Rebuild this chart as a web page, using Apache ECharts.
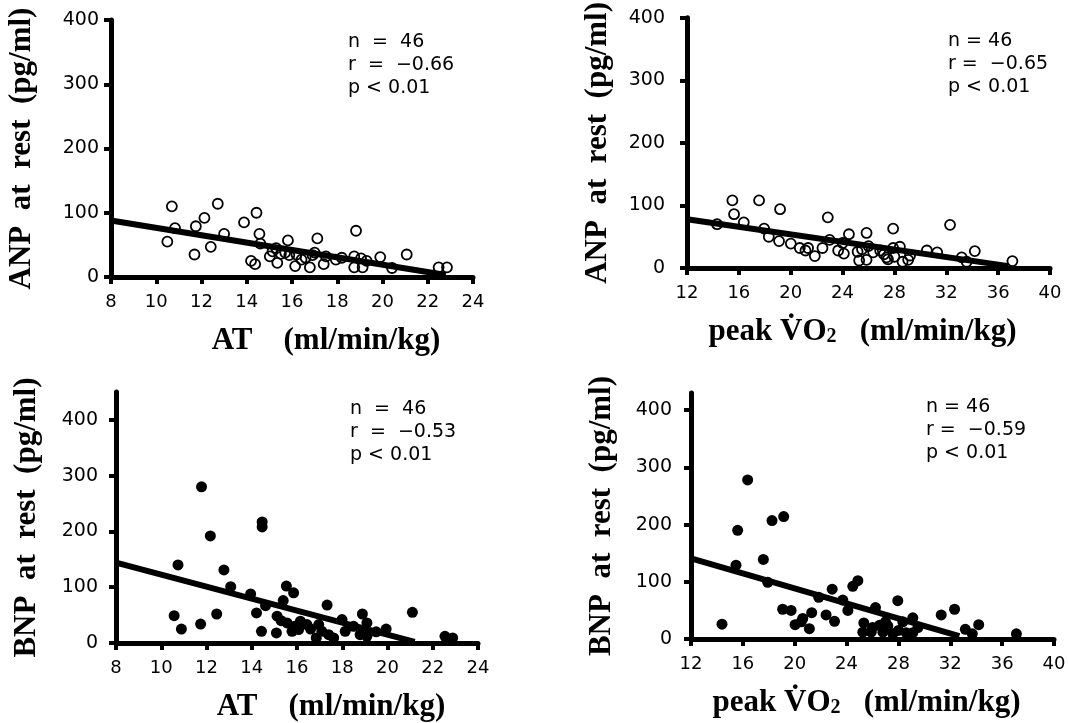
<!DOCTYPE html>
<html>
<head>
<meta charset="utf-8">
<script src="https://cdn.jsdelivr.net/npm/echarts@6/dist/echarts.min.js"></script>
<style>html,body{margin:0;padding:0;background:#fff}#c{width:1069px;height:723px}</style>
</head>
<body>
<div id="c"></div>
<script>
// ---- data ----
const yTicks = [0, 100, 200, 300, 400];
const atTicks = [8, 10, 12, 14, 16, 18, 20, 22, 24];
const vo2Ticks = [12, 16, 20, 24, 28, 32, 36, 40];

const anpAT = [
  [10.69,110],[10.49,55],[10.83,76],[11.75,79],[12.13,92],[11.69,35],[12.41,47],[12.72,114],
  [13.0,67],[13.88,85],[14.43,100],[14.56,67],[14.19,25],[14.37,20],[15.02,32],[15.35,22],
  [15.82,57],[15.51,36],[15.88,34],[15.14,40],[16.14,17],[16.42,27],[16.79,15],[17.12,60],
  [16.91,34],[17.4,20],[17.5,32],[17.94,27],[18.83,72],[18.75,32],[19.05,29],[18.75,15],
  [19.12,15],[19.9,31],[20.42,14],[21.07,35],[22.48,15],[22.85,15],
  [14.6,52],[15.3,45],[15.7,38],[16.2,35],[16.6,30],[17.0,38],[18.2,30],[19.3,25]
];
const anpVO2 = [
  [15.5,108],[15.63,86],[17.56,108],[19.18,94],[16.38,73],[14.32,70],[17.95,63],[18.31,50],
  [19.1,43],[20.01,39],[20.7,32],[21.14,28],[21.34,32],[21.86,19],[22.45,32],[22.86,81],
  [23.66,28],[24.1,23],[24.49,54],[25.16,26],[25.28,12],[25.85,13],[25.85,56],[26.36,25],
  [27.4,17],[27.5,14],[27.9,63],[27.9,32],[28.42,34],[28.63,10],[29.06,13],[31.3,25],
  [32.29,69],[33.19,17],[33.57,10],[34.2,27],[37.1,11],
  [23.0,45],[24.0,40],[25.5,30],[26.0,35],[26.9,28],[27.2,22],[28.0,18],[29.2,20],[30.5,28]
];
const bnpAT = [
  [11.78,280],[12.17,192],[14.46,217],[14.46,208],[10.74,140],[12.77,131],[13.07,101],[13.95,88],
  [15.53,102],[15.85,90],[15.39,76],[14.61,67],[10.57,49],[10.89,25],[11.74,34],[12.45,52],
  [14.21,54],[14.43,21],[15.12,48],[15.09,18],[15.56,36],[15.78,21],[16.15,39],[16.44,33],
  [16.07,24],[16.96,33],[16.85,9],[17.1,21],[17.33,68],[17.62,9],[17.99,42],[18.13,21],
  [18.89,52],[19.09,36],[18.79,15],[19.09,12],[19.94,25],[21.1,55],[22.54,12],[22.88,9],
  [15.3,40],[15.9,30],[16.6,25],[17.4,15],[18.5,30],[19.5,20]
];
const bnpVO2 = [
  [16.37,278],[15.6,190],[18.25,207],[19.15,214],[17.58,139],[15.47,129],[14.39,26],[17.92,99],
  [19.07,52],[19.72,50],[20.03,25],[20.62,36],[21.13,18],[21.31,46],[21.85,73],[22.42,42],
  [23.07,31],[22.89,87],[23.71,68],[24.1,50],[24.48,92],[24.87,102],[25.33,28],[25.25,12],
  [25.9,12],[26.23,55],[26.54,24],[26.8,12],[27.18,23],[27.57,9],[27.95,67],[28.34,30],
  [28.6,11],[29.11,37],[29.11,11],[31.3,42],[32.33,52],[33.16,17],[34.19,25],[33.7,9],
  [37.1,9],[20.5,30],[26.0,20],[27.0,30],[28.0,15],[29.5,20]
];
// regression line end points
const anpATFit = [[8,88],[22.8,3]];
const anpVO2Fit = [[12,78],[36.8,3]];
const bnpATFit = [[8,144],[21.2,2]];
const bnpVO2Fit = [[12,141],[32.7,5]];

const stats = [
  'n  =  46\nr  =  \u22120.66\np < 0.01',
  'n = 46\nr =  \u22120.65\np < 0.01',
  'n  =  46\nr  =  \u22120.53\np < 0.01',
  'n = 46\nr =  \u22120.59\np < 0.01'
];

// ---- chart ----
const chart = echarts.init(document.getElementById('c'), null, {renderer: 'canvas'});
const black = '#000';
const xTickFont = {color: black, fontFamily: 'DejaVu Sans', fontSize: 18};
const yTickFont = {color: black, fontFamily: 'DejaVu Sans', fontSize: 19};
const titleFont = {color: black, fontFamily: 'Liberation Serif', fontWeight: 'bold', fontSize: 31};

function xAxis(idx, min, max, interval, ticks, padding) {
  return {
    type: 'value', gridIndex: idx, min: min, max: max, interval: interval,
    axisLine: {show: true, onZero: false, lineStyle: {color: black, width: 5}},
    axisTick: {show: true, length: 7, lineStyle: {color: black, width: 4}, customValues: ticks},
    axisLabel: Object.assign({margin: 16, customValues: ticks}, xTickFont),
    splitLine: {show: false},
    nameLocation: 'middle', nameGap: 48,
    nameTextStyle: Object.assign({padding: padding}, titleFont)
  };
}
function yAxis(idx, max, margin, name) {
  return {
    type: 'value', gridIndex: idx, min: 0, max: max, interval: 100,
    axisLine: {show: true, onZero: false, lineStyle: {color: black, width: 5}},
    axisTick: {show: true, length: 7, lineStyle: {color: black, width: 4}, customValues: yTicks},
    axisLabel: Object.assign({margin: margin, customValues: yTicks}, yTickFont),
    splitLine: {show: false},
    name: name, nameLocation: 'middle', nameGap: 74,
    nameTextStyle: titleFont
  };
}
const vo2Name = '{t|peak }{v|V\u0307}{t|O}{s|2}{t|   (ml/min/kg)}';
const vo2Rich = {
  t: titleFont, v: titleFont,
  s: {color: black, fontFamily: 'Liberation Serif', fontWeight: 'bold', fontSize: 20, verticalAlign: 'bottom', padding: [8,0,0,0]}
};

const xAxes = [
  xAxis(0, 8, 24, 2, atTicks, [0,0,0,68]),
  xAxis(1, 12, 40, 4, vo2Ticks, [0,12,0,0]),
  xAxis(2, 8, 24, 2, atTicks, [0,0,0,68]),
  xAxis(3, 12, 40, 4, vo2Ticks, [0,12,0,0])
];
xAxes[0].name = 'AT    (ml/min/kg)';
xAxes[2].name = 'AT    (ml/min/kg)';
xAxes[1].name = vo2Name; xAxes[1].nameTextStyle.rich = vo2Rich;
xAxes[3].name = vo2Name; xAxes[3].nameTextStyle.rich = vo2Rich;

const yAxes = [
  yAxis(0, 400, 12, 'ANP  at  rest  (pg/ml)'),
  yAxis(1, 400, 22, 'ANP  at  rest  (pg/ml)'),
  yAxis(2, 450, 18, 'BNP  at  rest  (pg/ml)'),
  yAxis(3, 430, 19, 'BNP  at  rest  (pg/ml)')
];

function scatter(i, data, filled) {
  return {
    type: 'scatter', xAxisIndex: i, yAxisIndex: i, data: data, z: 2,
    symbol: 'circle', symbolSize: filled ? 11 : 10,
    itemStyle: filled ? {color: black, opacity: 1}
                      : {color: 'rgba(255,255,255,0)', borderColor: black, borderWidth: 1.8, opacity: 1}
  };
}
function fit(i, data) {
  return {
    type: 'line', xAxisIndex: i, yAxisIndex: i, data: data, z: 3,
    symbol: 'none', lineStyle: {color: black, width: 6}, silent: true
  };
}

const statPos = [[348, 31], [948, 30], [350, 398], [926, 396]];
const graphics = stats.map((s, i) => ({
  type: 'text', x: statPos[i][0], y: statPos[i][1], z: 10,
  style: {text: s, fill: black, font: '19px "DejaVu Sans"', lineHeight: 23, textVerticalAlign: 'top'}
}));

chart.setOption({
  animation: false,
  backgroundColor: '#fff',
  grid: [
    {left: 111, top: 20, width: 362, height: 257},
    {left: 687, top: 15, width: 363, height: 253},
    {left: 116, top: 392, width: 362, height: 251},
    {left: 691, top: 393, width: 363, height: 246}
  ],
  xAxis: xAxes,
  yAxis: yAxes,
  series: [
    scatter(0, anpAT, false), fit(0, anpATFit),
    scatter(1, anpVO2, false), fit(1, anpVO2Fit),
    scatter(2, bnpAT, true), fit(2, bnpATFit),
    scatter(3, bnpVO2, true), fit(3, bnpVO2Fit)
  ],
  graphic: graphics
});
</script>
</body>
</html>
